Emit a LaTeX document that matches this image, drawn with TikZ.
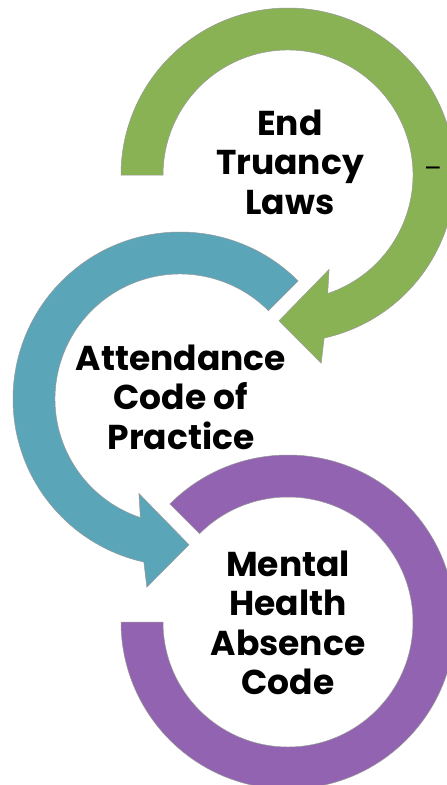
\documentclass[tikz,border=0pt]{standalone}
\usepackage{fontspec}
\setmainfont{Poppins}
\usetikzlibrary{calc}
\definecolor{ringgreen}{RGB}{137,178,84}
\definecolor{ringteal}{RGB}{91,165,185}
\definecolor{ringpurple}{RGB}{146,99,177}

\begin{document}
\begin{tikzpicture}[x=1pt,y=1pt,
    ring/.style={draw=black!40,line width=0.5pt},
    every node/.style={font=\bfseries\fontsize{34.5}{39.5}\selectfont,align=center}]
  \useasboundingbox (0,0) rectangle (447,-785);
  \clip (0,0) rectangle (447,-785);
  \coordinate (gc) at (288,-175);
  \coordinate (tc) at (180,-399);
  \coordinate (pc) at (288,-622);

  % green arrow, clockwise
  \fill[ring,fill=ringgreen] ($(gc)+(180:167)$)
    arc[start angle=180,end angle=-77.5,radius=167pt]
    -- ($(gc)+(-80:191)$) -- ($(gc)+(-93.5:146)$)
    -- ($(gc)+(-66.5:103)$) -- ($(gc)+(-71.5:125)$)
    arc[start angle=-71.5,end angle=180,radius=125pt] -- cycle;
  % teal arrow, counter-clockwise
  \fill[ring,fill=ringteal] ($(tc)+(45:167)$)
    arc[start angle=45,end angle=257.5,radius=167pt]
    -- ($(tc)+(260:191)$) -- ($(tc)+(273.5:146)$)
    -- ($(tc)+(246.5:103)$) -- ($(tc)+(251.5:125)$)
    arc[start angle=251.5,end angle=45,radius=125pt] -- cycle;
  % purple ring, no head
  \fill[ring,fill=ringpurple] ($(pc)+(135:167)$)
    arc[start angle=135,end angle=-180,radius=167pt]
    -- ($(pc)+(180:125)$)
    arc[start angle=-180,end angle=135,radius=125pt] -- cycle;

  \node (truancy) at (290,-162) {End\\Truancy\\Laws};
  \node (code) at (181,-397) {Attendance\\Code of\\Practice};
  \node (mental) at (288,-623) {Mental\\Health\\Absence\\Code};
  \node[font=\fontsize{26}{30}\selectfont] (dash) at (433,-172) {–};
\end{tikzpicture}
\end{document}
